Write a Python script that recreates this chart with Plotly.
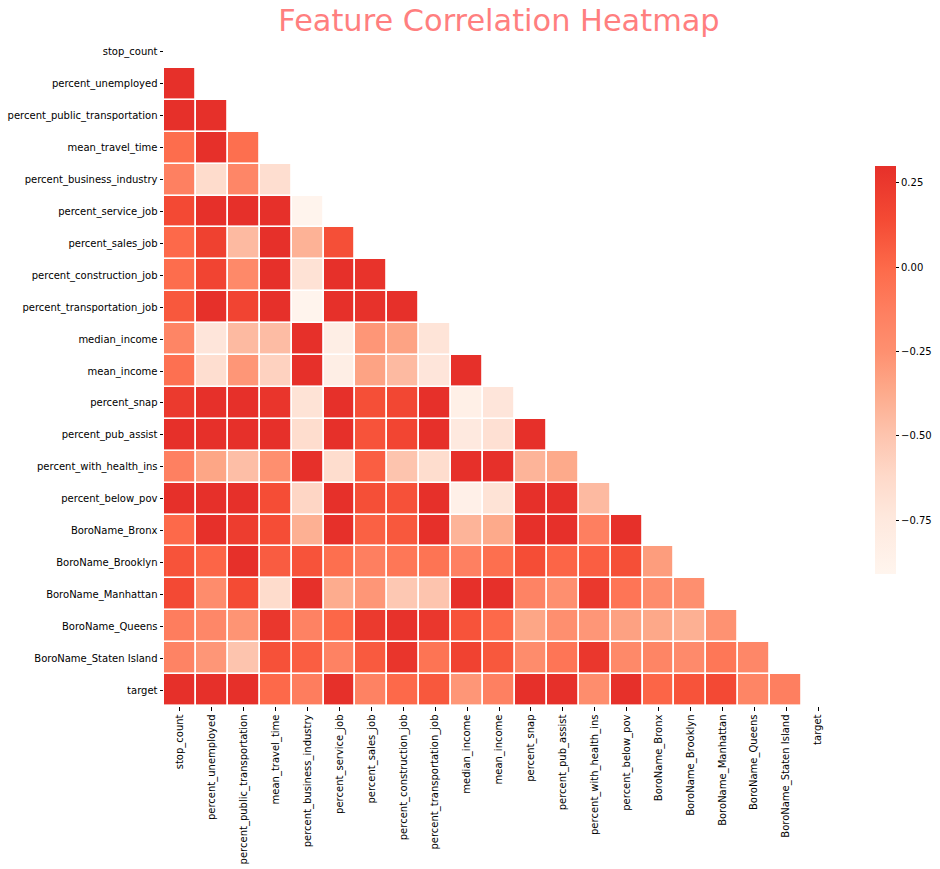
import plotly.graph_objects as go

features = ["stop_count", "percent_unemployed", "percent_public_transportation", "mean_travel_time",
            "percent_business_industry", "percent_service_job", "percent_sales_job",
            "percent_construction_job", "percent_transportation_job", "median_income", "mean_income",
            "percent_snap", "percent_pub_assist", "percent_with_health_ins", "percent_below_pov",
            "BoroName_Bronx", "BoroName_Brooklyn", "BoroName_Manhattan", "BoroName_Queens",
            "BoroName_Staten Island", "target"]

r01 = [0.3]
r02 = [0.3, 0.3]
r03 = [-0.02, 0.3, -0.03]
r04 = [-0.14, -0.64, -0.18, -0.66]
r05 = [0.15, 0.3, 0.3, 0.3, -0.9]
r06 = [0.0, 0.2, -0.45, 0.3, -0.41, 0.12]
r07 = [-0.02, 0.18, -0.2, 0.3, -0.69, 0.3, 0.28]
r08 = [0.08, 0.3, 0.18, 0.3, -0.9, 0.3, 0.29, 0.3]
r09 = [-0.17, -0.72, -0.45, -0.46, 0.3, -0.82, -0.28, -0.34, -0.71]
r10 = [-0.04, -0.66, -0.28, -0.58, 0.3, -0.82, -0.34, -0.45, -0.72, 0.3]
r11 = [0.24, 0.3, 0.3, 0.27, -0.7, 0.3, 0.12, 0.16, 0.3, -0.84, -0.72]
r12 = [0.3, 0.3, 0.3, 0.3, -0.65, 0.3, 0.1, 0.17, 0.3, -0.76, -0.68, 0.3]
r13 = [-0.14, -0.35, -0.47, -0.24, 0.3, -0.65, 0.05, -0.5, -0.65, 0.3, 0.3, -0.42, -0.37]
r14 = [0.3, 0.3, 0.3, 0.13, -0.6, 0.3, 0.12, 0.11, 0.3, -0.85, -0.7, 0.3, 0.3, -0.45]
r15 = [0.0, 0.3, 0.22, 0.13, -0.4, 0.3, 0.04, 0.08, 0.3, -0.42, -0.37, 0.3, 0.3, -0.13, 0.3]
r16 = [0.1, 0.02, 0.3, 0.06, 0.1, -0.03, -0.13, -0.08, -0.06, -0.14, -0.03, 0.13, 0.02, 0.05, 0.12, -0.31]
r17 = [0.15, -0.22, 0.14, -0.64, 0.3, -0.38, -0.28, -0.52, -0.5, 0.3, 0.3, -0.16, -0.24, 0.25, -0.07, -0.22, -0.24]
r18 = [-0.12, -0.19, -0.27, 0.26, -0.15, 0.01, 0.24, 0.29, 0.26, 0.1, 0.0, -0.35, -0.24, -0.28, -0.33, -0.36, -0.4, -0.26]
r19 = [-0.16, -0.28, -0.5, 0.11, 0.05, -0.15, 0.07, 0.27, -0.06, 0.19, 0.08, -0.22, -0.07, 0.26, -0.2, -0.17, -0.21, -0.08, -0.19]
r20 = [0.3, 0.3, 0.3, 0.0, -0.12, 0.3, -0.15, -0.0, 0.08, -0.28, -0.14, 0.3, 0.3, -0.23, 0.3, 0.02, 0.1, 0.15, -0.17, -0.13]
lower_rows = [[], r01, r02, r03, r04, r05, r06, r07, r08, r09, r10, r11, r12, r13, r14, r15, r16, r17, r18, r19, r20]
cbar_ticks = [0.25, 0.0, -0.25, -0.5, -0.75]

n = len(features)
z = [row + [None] * (n - len(row)) for row in lower_rows]

colors = [[0.0, "#fff5ee"], [0.14, "#fee8dd"], [0.24, "#fed9c9"], [0.34, "#fdc4ae"],
          [0.45, "#fda98a"], [0.545, "#fe9070"], [0.65, "#fe7e5f"], [0.75, "#fd6a4a"],
          [0.87, "#f44a34"], [1.0, "#e6302a"]]

W, H = 940, 869
L, R, T, B = 164, 834, 36, 706

fig = go.Figure(go.Heatmap(
    z=z, x=features, y=features, zmin=-0.91, zmax=0.3, colorscale=colors,
    xgap=1.8, ygap=1.6, hoverongaps=False,
    colorbar=dict(
        xref="container", x=875 / W, xanchor="left", yref="paper", y=(B - 370) / (B - T), yanchor="middle",
        thicknessmode="pixels", thickness=21, lenmode="pixels", len=408, xpad=0, ypad=0,
        outlinewidth=0, tickmode="array", tickvals=cbar_ticks, tickformat=".2f",
        ticks="outside", ticklen=3.5, tickwidth=0.8, tickcolor="#000",
        tickfont=dict(family="DejaVu Sans", size=10, color="#000"),
    ),
))
fig.update_layout(
    width=W, height=H, autosize=False, margin=dict(l=L, r=W - R, t=T, b=H - B, pad=0),
    paper_bgcolor="white", plot_bgcolor="white",
    title=dict(text="Feature Correlation Heatmap", x=499 / W, xanchor="center", y=1 - 20 / H, yanchor="middle",
               font=dict(family="DejaVu Sans", size=30.4, color="#ff7f7f")),
    xaxis=dict(type="category", tickangle=-90, showgrid=False, zeroline=False, showline=False,
               ticks="outside", ticklen=3.5, tickwidth=0.8, tickcolor="#000",
               tickfont=dict(family="DejaVu Sans", size=10, color="#000"), automargin=False),
    yaxis=dict(type="category", autorange="reversed", showgrid=False, zeroline=False, showline=False,
               ticks="outside", ticklen=3.5, tickwidth=0.8, tickcolor="#000",
               tickfont=dict(family="DejaVu Sans", size=10, color="#000"), automargin=False),
)
fig.write_html("out.html", config={"displayModeBar": False},
               post_script="document.body.style.margin='0';document.documentElement.style.overflow='hidden';")
